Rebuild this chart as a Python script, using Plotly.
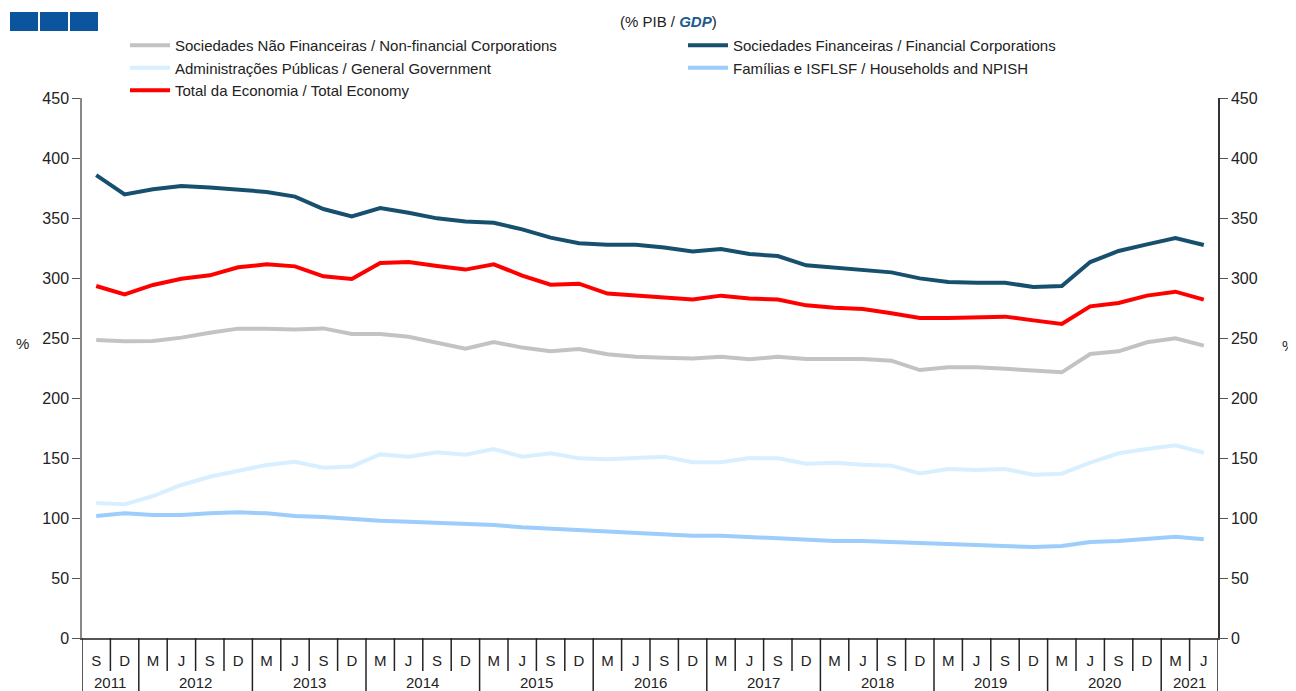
import plotly.graph_objects as go

# quarterly labels, Sep 2011 - Jun 2021
years = ['2011', '2011',
         '2012', '2012', '2012', '2012',
         '2013', '2013', '2013', '2013',
         '2014', '2014', '2014', '2014',
         '2015', '2015', '2015', '2015',
         '2016', '2016', '2016', '2016',
         '2017', '2017', '2017', '2017',
         '2018', '2018', '2018', '2018',
         '2019', '2019', '2019', '2019',
         '2020', '2020', '2020', '2020',
         '2021', '2021']
quarters = ['S', 'D',
            'M', 'J', 'S', 'D', 'M', 'J', 'S', 'D', 'M', 'J', 'S', 'D',
            'M', 'J', 'S', 'D', 'M', 'J', 'S', 'D', 'M', 'J', 'S', 'D',
            'M', 'J', 'S', 'D', 'M', 'J', 'S', 'D', 'M', 'J', 'S', 'D',
            'M', 'J']

non_financial = [248.3, 247.2, 247.5, 250.3, 254.4, 257.8, 257.8, 257.0, 258.0, 253.3,
                 253.3, 251.1, 246.1, 241.1, 246.7, 242.0, 239.0, 240.8, 236.4, 234.4,
                 233.6, 233.0, 234.4, 232.2, 234.4, 232.5, 232.5, 232.5, 231.1, 223.3,
                 225.6, 225.6, 224.4, 223.3, 221.4, 236.7, 238.9, 246.4, 249.7, 243.6]
financial = [385.8, 369.7, 374.0, 376.7, 375.5, 373.9, 371.7, 367.8, 357.5, 351.4,
             358.3, 354.4, 349.7, 347.0, 346.0, 340.5, 333.6, 328.9, 327.8, 327.8,
             325.5, 322.0, 324.2, 320.0, 318.3, 310.6, 308.6, 306.7, 304.7, 299.7,
             296.7, 296.1, 296.1, 292.5, 293.3, 313.3, 322.5, 328.0, 333.3, 327.5]
government = [112.5, 111.4, 118.3, 127.5, 134.4, 139.4, 144.2, 146.9, 141.9, 143.0,
              153.0, 151.1, 154.7, 152.8, 157.5, 151.1, 153.9, 149.7, 148.9, 150.0,
              151.1, 146.4, 146.4, 150.0, 149.7, 145.3, 146.1, 144.4, 143.6, 137.2,
              140.8, 140.0, 140.8, 136.1, 136.9, 146.1, 153.9, 157.5, 160.6, 154.4]
households = [101.7, 103.9, 102.5, 102.5, 103.9, 104.7, 103.9, 101.7, 100.8, 98.9,
              97.8, 96.9, 95.8, 95.0, 94.2, 92.2, 91.1, 90.0, 88.3, 87.2,
              86.4, 85.3, 85.3, 84.2, 82.5, 81.7, 80.8, 80.8, 80.0, 79.2,
              78.3, 77.5, 76.7, 75.8, 76.7, 80.0, 80.8, 82.5, 84.4, 82.2]
total = [293.3, 286.4, 294.2, 299.4, 302.2, 308.9, 311.4, 309.7, 301.4, 299.2,
         312.5, 313.3, 310.0, 307.0, 311.4, 302.0, 294.4, 295.3, 287.0, 285.3,
         284.2, 282.0, 285.3, 283.0, 282.0, 277.2, 275.3, 274.2, 270.6, 266.7,
         266.7, 267.5, 267.8, 264.7, 261.7, 276.4, 279.2, 285.3, 288.6, 282.0]

series = [
    ('Sociedades Não Financeiras / Non-financial Corporations', non_financial, '#c3c3c3'),
    ('Sociedades Financeiras / Financial Corporations', financial, '#17506f'),
    ('Administrações Públicas / General Government', government, '#d8efff'),
    ('Famílias e ISFLSF / Households and NPISH', households, '#9dcdfb'),
    ('Total da Economia / Total Economy', total, '#ff0000'),
]

FONT = 'Liberation Sans, Arial, sans-serif'
# page body adds an 8px margin, so the figure is sized to fit the window
OFF = 8
W, H = 1296 - OFF, 691 - OFF
L, T = 82 - OFF, 98 - OFF
R, B = W - (1218 - OFF), H - (638 - OFF)
PW, PH = W - L - R, H - T - B

# helpers: screen pixel (as in the reference) -> paper coordinate
def px_x(p):
    return (p - OFF - L) / PW

def px_y(p):
    return (H - B - (p - OFF)) / PH

periods = [y + ' ' + q for y, q in zip(years, quarters)]

fig = go.Figure()
for name, vals, color in series:
    fig.add_trace(go.Scatter(x=periods, y=vals, name=name, mode='lines',
                             line=dict(color=color, width=4)))

# invisible trace so the right axis is drawn
fig.add_trace(go.Scatter(x=periods, y=total, yaxis='y2', mode='lines',
                         line=dict(width=0, color='rgba(0,0,0,0)'),
                         showlegend=False, hoverinfo='skip'))

fig.update_layout(
    width=W, height=H,
    margin=dict(l=L, r=R, t=T, b=B, autoexpand=False),
    paper_bgcolor='white', plot_bgcolor='white',
    font=dict(family=FONT, size=15, color='#222'),
    showlegend=True,
    legend=dict(orientation='h', x=px_x(125), y=px_y(29), xanchor='left', yanchor='top',
                entrywidth=503, entrywidthmode='pixels',
                itemwidth=40, font=dict(size=15, color='#222'),
                bgcolor='rgba(0,0,0,0)'),
    xaxis=dict(type='category', range=[-0.5, 39.5], showgrid=False, showline=True,
               linecolor='#555', linewidth=1.5, ticks='outside', ticklen=8,
               tickcolor='rgba(0,0,0,0)', tickmode='array', tickvals=periods,
               ticktext=quarters, tickfont=dict(size=15, color='#222'),
               automargin=False),
    yaxis=dict(range=[0, 450], dtick=50, showgrid=False, zeroline=False,
               showline=True, linecolor='#888', linewidth=1.5, ticks='outside',
               ticklen=8, tickcolor='#555', tickfont=dict(size=16, color='#222'),
               automargin=False),
    yaxis2=dict(range=[0, 450], dtick=50, overlaying='y', side='right', anchor='x',
                showgrid=False, zeroline=False, showline=True, linecolor='#333',
                linewidth=1.5, ticks='outside', ticklen=8, tickcolor='#555',
                tickfont=dict(size=16, color='#222'), automargin=False),
)

# separators under the axis: short between quarters, long between years
for i in range(len(periods) + 1):
    new_year = i == 0 or i == len(periods) or years[i] != years[i - 1]
    fig.add_shape(type='line', xref='x', yref='paper', x0=i - 0.5, x1=i - 0.5,
                  y0=0, y1=px_y(691) if new_year else px_y(671),
                  line=dict(color='#222', width=1.5))

# year labels centred under their quarters
for yr in dict.fromkeys(years):
    idx = [i for i, y in enumerate(years) if y == yr]
    fig.add_annotation(text=yr, xref='x', yref='paper', x=sum(idx) / len(idx),
                       y=px_y(682), showarrow=False, yanchor='middle',
                       font=dict(size=15, color='#222'))

# % labels on both sides
fig.add_annotation(text='%', xref='paper', yref='paper', x=px_x(22), y=px_y(343),
                   showarrow=False, xanchor='center', yanchor='middle',
                   font=dict(size=15, color='#222'))
fig.add_annotation(text='%', xref='paper', yref='paper', x=px_x(1288), y=px_y(345),
                   showarrow=False, xanchor='center', yanchor='middle',
                   font=dict(size=15, color='#222'))

# subtitle
fig.add_annotation(text="(% PIB / <b><i><span style='color:#1d5a8c'>GDP</span></i></b>)",
                   xref='paper', yref='paper', x=px_x(668), y=px_y(22), showarrow=False,
                   xanchor='center', yanchor='middle', font=dict(size=15, color='#222'))

# three blue squares at top left
for x0, x1 in [(10, 38), (40, 68), (70, 98)]:
    fig.add_shape(type='rect', xref='paper', yref='paper',
                  x0=px_x(x0), x1=px_x(x1), y0=px_y(31), y1=px_y(12),
                  fillcolor='#0b559f', line=dict(width=0))

fig.write_html('out.html')
